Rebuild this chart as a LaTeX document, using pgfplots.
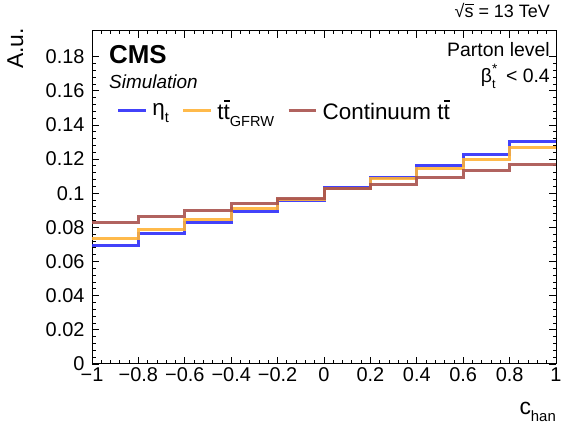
\documentclass[border=0pt]{standalone}
\usepackage{fontspec}
\setmainfont{Liberation Sans}
\setsansfont{Liberation Sans}
\usepackage{graphicx}
\usepackage{pgfplots}
\pgfplotsset{compat=1.18}
\definecolor{cblue}{RGB}{45,45,250}
\definecolor{corange}{RGB}{255,178,55}
\definecolor{cbrown}{RGB}{168,82,78}
\newcommand{\sub}[1]{\raisebox{-0.3em}{\scalebox{0.65}{#1}}}
\newcommand{\tbar}{t\rlap{\kern0.01em\raisebox{0.8em}{\rule{0.26em}{0.06em}}}t}
\newcommand{\sqrts}{√\rlap{\raisebox{0.74em}{\rule{0.5em}{0.05em}}}s}
\begin{document}
\begin{tikzpicture}[x=1bp,y=1bp]
\useasboundingbox (0,0) rectangle (580,435);
\begin{axis}[
  at={(92bp,71bp)}, anchor=south west,
  scale only axis, width=464bp, height=333bp,
  xmin=-1, xmax=1, ymin=0, ymax=0.195,
  xtick={-1,-0.8,-0.6,-0.4,-0.2,0,0.2,0.4,0.6,0.8,1},
  xticklabels={−1,−0.8,−0.6,−0.4,−0.2,0,0.2,0.4,0.6,0.8,1},
  ytick={0,0.02,0.04,0.06,0.08,0.1,0.12,0.14,0.16,0.18},
  yticklabels={0,0.02,0.04,0.06,0.08,0.1,0.12,0.14,0.16,0.18},
  minor tick num=4,
  tick align=inside,
  major tick length=7bp, minor tick length=3.5bp,
  every tick/.style={black, line width=0.8bp},
  axis line style={line width=1bp},
  ticklabel style={font=\fontsize{20}{20}\selectfont},
  yticklabel style={xshift=-4bp},
  xlabel={c\sub{han}},
  ylabel={A.u.},
  label style={font=\fontsize{23}{23}\selectfont, inner sep=0pt},
  xlabel style={at={(axis description cs:1,-0.153)}, anchor=base east},
  ylabel style={at={(axis description cs:-0.1487,1.009)}, anchor=base east},
  legend columns=3,
  legend style={draw=none, fill=none, at={(axis description cs:0.0532,0.761)}, anchor=west,
    inner sep=0pt, outer sep=0pt,
    nodes={inner sep=0pt, font=\fontsize{22.5}{22.5}\selectfont},
    /tikz/every even column/.style={column sep=0pt},
    /tikz/every odd column/.style={column sep=0pt}},
  legend image code/.code={\draw[#1, line width=3bp] (0bp,0bp) -- (27.6bp,0bp);},
]
\addplot[const plot mark left, color=cblue, line width=3bp, opacity=0.9] coordinates {
(-1,0.0695) (-0.8,0.0767) (-0.6,0.0829) (-0.4,0.0893) (-0.2,0.0957)
(0,0.1033) (0.2,0.1090) (0.4,0.1160) (0.6,0.1227) (0.8,0.1300) (1,0.1300)};
\addlegendentry{\hspace*{5bp}η\sub{t}\hspace*{13bp}\mbox{}}
\addplot[const plot mark left, color=corange, line width=3bp, opacity=0.9] coordinates {
(-1,0.0733) (-0.8,0.0788) (-0.6,0.0849) (-0.4,0.0911) (-0.2,0.0961)
(0,0.1029) (0.2,0.1085) (0.4,0.1143) (0.6,0.1195) (0.8,0.1267) (1,0.1267)};
\addlegendentry{\hspace*{5bp}\tbar\sub{GFRW}\hspace*{13bp}\mbox{}}
\addplot[const plot mark left, color=cbrown, line width=3bp, opacity=0.9] coordinates {
(-1,0.0826) (-0.8,0.0864) (-0.6,0.0901) (-0.4,0.0938) (-0.2,0.0969)
(0,0.1025) (0.2,0.1054) (0.4,0.1090) (0.6,0.1131) (0.8,0.1166) (1,0.1166)};
\addlegendentry{\hspace*{5bp}Continuum \tbar}
\end{axis}
\node[anchor=base west, inner sep=0pt] at (109,371) {\fontsize{26}{26}\selectfont\bfseries CMS};
\node[anchor=base west, inner sep=0pt] at (109,346) {\fontsize{19}{19}\selectfont\itshape Simulation};
\node[anchor=base east, inner sep=0pt] at (550,378) {\fontsize{19.5}{19.5}\selectfont Parton level};
\node[anchor=base east, inner sep=0pt] at (550,352) {\fontsize{19.5}{19.5}\selectfont β\rlap{\sub{t}}\raisebox{0.5em}{\scalebox{0.7}{*}} \,<\ 0.4};
\node[anchor=base east, inner sep=0pt] at (550,417) {\fontsize{18}{18}\selectfont \sqrts\ = 13 TeV};
\end{tikzpicture}
\end{document}
